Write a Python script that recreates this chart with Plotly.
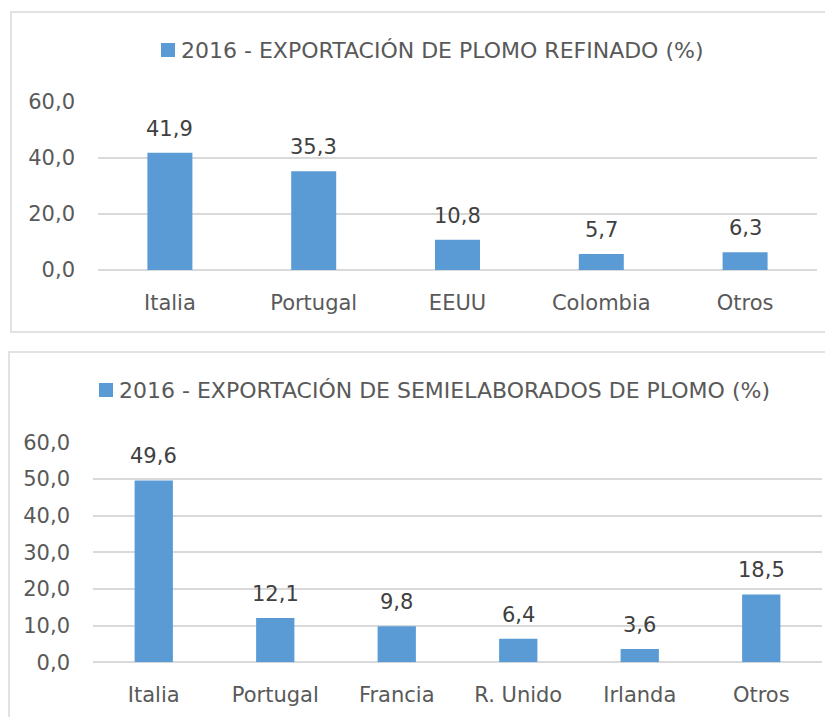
import plotly.graph_objects as go

# Top chart data
cat1 = ["Italia", "Portugal", "EEUU", "Colombia", "Otros"]
val1 = [41.9, 35.3, 10.8, 5.7, 6.3]
name1 = "2016 - EXPORTACIÓN DE PLOMO REFINADO (%)"
ticks1 = [0, 20, 40, 60]

# Bottom chart data
cat2 = ["Italia", "Portugal", "Francia", "R. Unido", "Irlanda", "Otros"]
val2 = [49.6, 12.1, 9.8, 6.4, 3.6, 18.5]
name2 = "2016 - EXPORTACIÓN DE SEMIELABORADOS DE PLOMO (%)"
ticks2 = [0, 10, 20, 30, 40, 50, 60]

# page body has an 8px margin: the figure starts 8px in and runs to the window edge
OFF = 8
W, H = 833 - OFF, 717 - OFF
BAR = "#5B9BD5"
GRID = "#D9D9D9"
FONT = "DejaVu Sans"
FS = 21


def px(x):
    return (x - OFF) / W


def py(y):
    return 1 - (y - OFF) / H


def fmt(v):
    return f"{v:.1f}".replace(".", ",")


fig = go.Figure()
fig.add_trace(go.Bar(
    x=cat1, y=val1, name=name1, marker=dict(color=BAR, line=dict(width=0)),
    width=0.313, xaxis="x", yaxis="y", showlegend=False, hoverinfo="x+y",
))
fig.add_trace(go.Bar(
    x=cat2, y=val2, name=name2, marker=dict(color=BAR, line=dict(width=0)),
    width=0.315, xaxis="x2", yaxis="y2", showlegend=False, hoverinfo="x+y",
))

annotations = []
for xa, ya, cats, vals in (("x", "y", cat1, val1), ("x2", "y2", cat2, val2)):
    for c, v in zip(cats, vals):
        annotations.append(dict(
            x=c, y=v, xref=xa, yref=ya, text=fmt(v), showarrow=False,
            xanchor="center", yanchor="bottom", yshift=10,
            font=dict(color="#404040", size=FS, family=FONT),
        ))

# legend-like headers (square + series name)
legend_specs = [(name1, 161, 50), (name2, 99, 390)]
shapes = []
for name, lx, ly in legend_specs:
    shapes.append(dict(type="rect", xref="paper", yref="paper",
                       x0=px(lx), x1=px(lx + 14), y0=py(ly + 7), y1=py(ly - 7),
                       line=dict(width=0), fillcolor=BAR))
    annotations.append(dict(x=px(lx + 18), y=py(ly), xref="paper", yref="paper",
                            text=name, showarrow=False, xanchor="left",
                            yanchor="middle",
                            font=dict(color="#595959", size=22, family=FONT)))

# chart-area borders
shapes.append(dict(type="rect", xref="paper", yref="paper",
                   x0=px(11), x1=px(845), y0=py(332), y1=py(12),
                   line=dict(color=GRID, width=1.5), fillcolor="rgba(0,0,0,0)",
                   layer="below"))
shapes.append(dict(type="rect", xref="paper", yref="paper",
                   x0=px(9), x1=px(845), y0=py(740), y1=py(352),
                   line=dict(color=GRID, width=1.5), fillcolor="rgba(0,0,0,0)",
                   layer="below"))

axis_common = dict(
    tickfont=dict(color="#595959", size=FS, family=FONT),
    fixedrange=True, automargin=False,
)
xcommon = dict(showgrid=False, showline=False, zeroline=False, ticks="",
               ticklabelstandoff=18, type="category", **axis_common)
ycommon = dict(range=[0, 60], tickformat=".1f", showgrid=True,
               gridcolor=GRID, gridwidth=1.5, zeroline=True,
               zerolinecolor=GRID, zerolinewidth=1.5, showline=False,
               ticks="", ticklabelstandoff=22, **axis_common)

fig.update_layout(
    template="none",
    width=W, height=H, autosize=False,
    margin=dict(l=0, r=0, t=0, b=0, pad=0),
    paper_bgcolor="white", plot_bgcolor="white",
    separators=",.",
    font=dict(family=FONT, size=FS, color="#595959"),
    showlegend=False,
    xaxis=dict(domain=[px(98), px(817)], anchor="y", **xcommon),
    yaxis=dict(domain=[py(270), py(102)], anchor="x", tickvals=ticks1, **ycommon),
    xaxis2=dict(domain=[px(93), px(822)], anchor="y2", **xcommon),
    yaxis2=dict(domain=[py(662.3), py(442.3)], anchor="x2", tickvals=ticks2, **ycommon),
    shapes=shapes,
    annotations=annotations,
    bargap=0.6,
)

fig.write_html("out.html")
